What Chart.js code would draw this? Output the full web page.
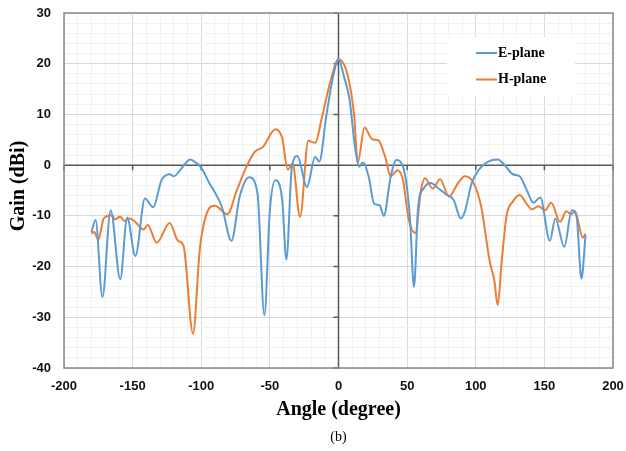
<!DOCTYPE html>
<html lang="en">
<head>
  <meta charset="UTF-8" />
  <title>Gain pattern (b)</title>
  <script src="https://cdn.jsdelivr.net/npm/chart.js"></script>
  <style>
    html, body { margin: 0; padding: 0; background: #ffffff; }
    #wrap { width: 626px; height: 451px; position: relative; }
  </style>
</head>
<body>
<div id="wrap"><canvas id="gainChart" width="626" height="451"></canvas></div>

<script>
  // E-plane (blue)
  const eAngle = [-180, -177, -172, -166, -159, -154, -148, -141, -135, -129, -123, -120, -114, -108, -104, -100,
    -94, -91, -85, -78, -72, -65, -59, -54, -50, -46, -41, -38, -34, -30, -23, -17, -14, -9, -4, 0,
    4, 8, 12, 15, 18, 22, 26, 30, 33, 38, 42, 47, 52, 55, 58, 62, 67, 73, 78, 84, 89, 92, 97,
    102, 109, 116, 122, 127, 132, 137, 142, 147, 154, 158, 164.5, 170, 173.5, 177, 180];
  const eGain = [-13.2, -10.8, -26.0, -8.9, -22.5, -10.3, -17.9, -6.6, -8.3, -3.0, -1.8, -2.2, -0.5, 1.1, 0.5, -0.5,
    -3.6, -4.9, -8.2, -14.9, -6.2, -2.4, -5.6, -29.6, -8.9, -3.0, -6.9, -18.6, -0.5, 1.8, -4.3, 1.6, 0.7, 9.5, 17.4, 20.9,
    17.5, 13.0, 3.6, -0.3, 0.5, -2.3, -7.6, -7.9, -10.0, -2.3, 1.0, -0.3, -10.2, -24.0, -8.2, -4.6, -3.5, -4.6, -5.7, -6.9, -10.5, -9.2, -3.6,
    -1.0, 0.7, 1.1, -0.3, -1.8, -2.2, -4.8, -7.4, -6.4, -14.9, -10.5, -16.1, -8.9, -10.2, -22.4, -13.8];

  // H-plane (orange)
  const hAngle = [-180, -178, -175, -171, -165, -163, -159, -156, -152, -148, -142, -139, -132.5, -123, -117, -113,
    -106, -101, -96, -90, -81, -74, -67, -61, -55, -46, -41, -37, -33.5, -28, -22, -17, -12, -6, 0,
    7, 11.5, 14, 19, 24.5, 29, 34, 38, 43, 47, 51, 56, 60, 63, 68.6, 74, 80.5, 87, 92, 98,
    104, 110, 113.5, 116, 119, 122.5, 127, 132, 137, 141, 145.6, 150.5, 155, 161.4, 166, 169.4, 172.3, 178, 180];
  const hGain = [-13.5, -13.2, -14.7, -10.5, -9.9, -10.7, -10.2, -11.0, -10.5, -11.2, -12.7, -11.8, -15.3, -11.4, -14.9, -15.8,
    -33.2, -16.4, -9.5, -8.0, -9.7, -4.9, -0.3, 2.6, 3.6, 7.1, 5.3, -0.9, 0.3, -10.2, 4.8, 4.4, 9.5, 16.4, 20.9,
    17.4, 9.5, 0.5, 7.4, 5.1, 4.9, 1.6, -2.2, -1.0, -3.0, -10.5, -13.4, -5.0, -2.6, -4.6, -2.8, -6.2, -3.6, -2.2, -3.3,
    -8.2, -18.7, -22.7, -27.6, -18.7, -9.9, -7.2, -5.9, -7.6, -8.7, -8.1, -8.9, -7.4, -11.2, -9.1, -9.7, -9.1, -14.3, -13.5];

  const seriesNames = ['E-plane', 'H-plane'];
  const seriesColors = ['#5b9bd5', '#ed7d31'];

  const toPoints = (xs, ys) => xs.map((x, i) => ({ x: x, y: ys[i] }));

  const tickFont = { family: '"Liberation Sans", Arial, sans-serif', size: 13, weight: 'bold' };
  const serif = '"Liberation Serif", "Times New Roman", serif';

  // keep the plot area fixed: no extra room for overhanging labels
  const fixBox = (s, key, size) => {
    s[key] = size;
    s.paddingTop = s.paddingBottom = s.paddingLeft = s.paddingRight = 0;
  };

  // zero axes, plot border, legend and titles
  const decorations = {
    id: 'decorations',
    beforeDatasetsDraw(chart) {
      const { ctx, chartArea: a, scales: { x, y } } = chart;
      const x0 = x.getPixelForValue(0), y0 = y.getPixelForValue(0);
      ctx.save();
      ctx.strokeStyle = '#595959';
      ctx.lineWidth = 1.5;
      ctx.beginPath();
      ctx.moveTo(a.left, y0); ctx.lineTo(a.right, y0);
      ctx.moveTo(x0, a.top); ctx.lineTo(x0, a.bottom);
      for (let v = -200; v <= 200; v += 50) {
        const px = x.getPixelForValue(v);
        ctx.moveTo(px, y0); ctx.lineTo(px, y0 + 5);
      }
      for (let v = -40; v <= 30; v += 10) {
        const py = y.getPixelForValue(v);
        ctx.moveTo(x0 - 5, py); ctx.lineTo(x0, py);
      }
      ctx.stroke();
      ctx.strokeStyle = '#898989';
      ctx.lineWidth = 1.5;
      ctx.strokeRect(a.left, a.top, a.right - a.left, a.bottom - a.top);
      ctx.restore();
    },
    afterDatasetsDraw(chart) {
      const { ctx } = chart;
      ctx.save();
      ctx.fillStyle = '#ffffff';
      ctx.fillRect(447, 37, 128, 59);
      ctx.font = 'bold 14px ' + serif;
      ctx.textBaseline = 'middle';
      chart.data.datasets.forEach((ds, i) => {
        const ly = 53 + i * 26.5;
        ctx.strokeStyle = ds.borderColor;
        ctx.lineWidth = 2;
        ctx.beginPath();
        ctx.moveTo(476, ly); ctx.lineTo(497, ly);
        ctx.stroke();
        ctx.fillStyle = '#000000';
        ctx.fillText(ds.label, 498, ly);
      });
      ctx.restore();
    },
    afterDraw(chart) {
      const { ctx, chartArea: a } = chart;
      const cx = (a.left + a.right) / 2;
      ctx.save();
      ctx.fillStyle = '#000000';
      ctx.textAlign = 'center';
      ctx.textBaseline = 'middle';
      ctx.font = 'bold 20px ' + serif;
      ctx.fillText('Angle (degree)', cx, 410);
      ctx.font = '14px ' + serif;
      ctx.fillText('(b)', cx, 437);
      ctx.translate(19, 186);
      ctx.rotate(-Math.PI / 2);
      ctx.font = 'bold 20px ' + serif;
      ctx.fillText('Gain (dBi)', 0, 0);
      ctx.restore();
    }
  };

  new Chart(document.getElementById('gainChart'), {
    type: 'line',
    data: {
      datasets: [
        { label: seriesNames[0], data: toPoints(eAngle, eGain), borderColor: seriesColors[0] },
        { label: seriesNames[1], data: toPoints(hAngle, hGain), borderColor: seriesColors[1] }
      ]
    },
    options: {
      responsive: false,
      animation: false,
      layout: { padding: { top: 13, right: 13, left: 0, bottom: 0 } },
      elements: {
        point: { radius: 0 },
        line: { borderWidth: 2, cubicInterpolationMode: 'monotone', fill: false }
      },
      plugins: { legend: { display: false }, tooltip: { enabled: false } },
      scales: {
        x: {
          type: 'linear', min: -200, max: 200,
          afterFit: s => fixBox(s, 'height', 83),
          border: { display: false },
          grid: {
            drawTicks: false, lineWidth: 1,
            color: c => (c.tick.value % 50 === 0 ? '#d9d9d9' : '#f2f2f2')
          },
          ticks: {
            stepSize: 10, autoSkip: false, maxRotation: 0, padding: 11,
            color: '#111111', font: tickFont,
            callback: v => (v % 50 === 0 ? v : '')
          }
        },
        y: {
          min: -40, max: 30,
          afterFit: s => fixBox(s, 'width', 64),
          border: { display: false },
          grid: {
            drawTicks: false, lineWidth: 1,
            color: c => (c.tick.value % 10 === 0 ? '#d9d9d9' : '#f2f2f2')
          },
          ticks: {
            stepSize: 2, autoSkip: false, padding: 13,
            color: '#111111', font: tickFont,
            callback: v => (v % 10 === 0 ? v : '')
          }
        }
      }
    },
    plugins: [decorations]
  });
</script>
</body>
</html>
